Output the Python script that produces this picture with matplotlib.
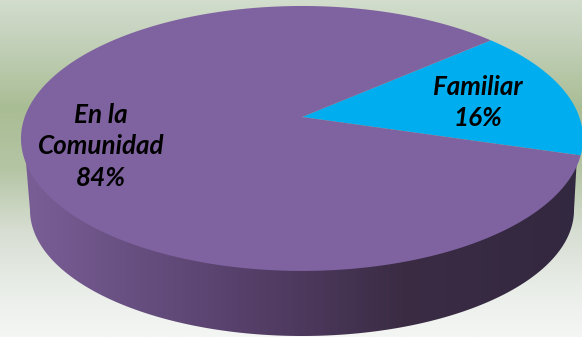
import matplotlib
matplotlib.use("Agg")
from matplotlib import pyplot as plt
from matplotlib.colors import LinearSegmentedColormap
from matplotlib.patches import Polygon
import numpy as np

categories = ["Familiar", "En la\nComunidad"]
shares = [16, 84]
slice_colors = ["#00aeef", "#7f62a0"]

W, H = 582, 337

# ellipse of the top face (pulled in a little so no seam shows) and of the bottom edge, in pixels
top_c, top_a, top_b = (301, 138.5), 277, 129
bot_c, bot_a, bot_b = (302, 210), 272, 126

# apex sits above the ellipse centre (perspective): unit circle -> ellipse
apex = (302, 117)
k = 0.162
A, B = 277.3, 129
start_angle = -16.5

bg_stops = [(0, "#d2ddcd"), (0.10, "#c6d3be"), (0.32, "#a9bd94"), (0.50, "#b4c5a4"),
            (0.68, "#d6ddd1"), (0.85, "#e9ede8"), (1, "#f4f6f3")]
wall_stops = [(0, "#7a5f97"), (0.25, "#634b7b"), (0.48, "#4f3a60"), (0.68, "#3b2c44"), (1, "#322840")]


def project(theta):
    u, v = np.cos(theta), np.sin(theta)
    w = 1 + k * v
    return apex[0] + A * u / w, apex[1] - B * v / w


fig = plt.figure(figsize=(W / 100, H / 100), dpi=100)
ax = fig.add_axes([0, 0, 1, 1])
ax.set_xlim(0, W)
ax.set_ylim(H, 0)
ax.axis("off")

bg = LinearSegmentedColormap.from_list("bg", bg_stops)
ax.imshow(np.linspace(0, 1, 256).reshape(-1, 1), cmap=bg, extent=(0, W, H, 0), aspect="auto", zorder=0)

# side wall, shaded from left to right and clipped to the outline of the lower half
t = np.linspace(np.pi, 0, 300)
top_x = top_c[0] + top_a * np.cos(t)
top_y = top_c[1] + top_b * np.sin(t)
bot_x = bot_c[0] + bot_a * np.cos(t)
bot_y = bot_c[1] + bot_b * np.sin(t)
outline = np.column_stack([np.r_[top_x, bot_x[::-1]], np.r_[top_y, bot_y[::-1]]])
wall_shape = Polygon(outline, closed=True, transform=ax.transData, fc="none", ec="none")
ax.add_patch(wall_shape)
wall = LinearSegmentedColormap.from_list("wall", wall_stops)
im = ax.imshow(np.linspace(0, 1, 256).reshape(1, -1), cmap=wall, extent=(21, 581, H, 0), aspect="auto", zorder=1)
im.set_clip_path(wall_shape)
ax.set_xlim(0, W)
ax.set_ylim(H, 0)

# top face
edges = start_angle + 360 * np.cumsum([0] + shares) / sum(shares)
for i in range(len(shares)):
    theta = np.radians(np.linspace(edges[i], edges[i + 1], 200))
    x, y = project(theta)
    ax.fill(np.r_[apex[0], x], np.r_[apex[1], y], color=slice_colors[i], lw=0, zorder=2)

label_pos = [(478, 102.5), (101, 146.5)]
for i in range(len(shares)):
    ax.text(label_pos[i][0], label_pos[i][1], "%s\n%d%%" % (categories[i], shares[i]),
            family="Lato", weight="bold", style="italic", fontsize=18.7, color="black",
            ha="center", va="center", linespacing=1.36, zorder=3)

fig.savefig("out.png", dpi=100)
